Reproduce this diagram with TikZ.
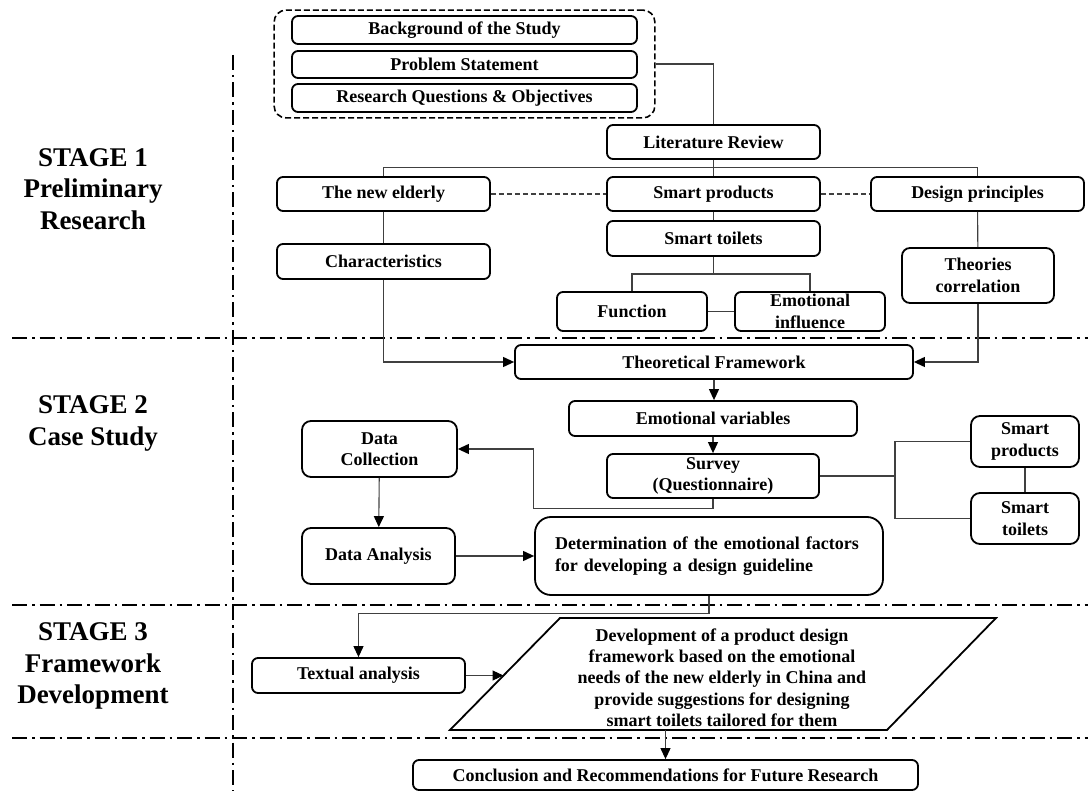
\documentclass[tikz,border=0pt]{standalone}
\usepackage{fontspec}
\setmainfont{Liberation Serif}
\usetikzlibrary{arrows.meta,fit}

\begin{document}
\begin{tikzpicture}[x=1pt, y=-1pt,
    box/.style={draw, line width=1.8pt, rounded corners=6pt, align=center, inner sep=0pt, font=\fontsize{18}{21.5}\selectfont\bfseries},
    link/.style={draw=black!75, line width=1.1pt},
    arrow/.style={link, -{Triangle[length=11pt,width=10pt,color=black]}},
    peer/.style={link, dash pattern=on 5pt off 3pt},
    stagelabel/.style={align=center, font=\fontsize{27}{31.5}\selectfont\bfseries},
    separator/.style={line width=1.8pt, dash pattern=on 15pt off 5pt on 2.5pt off 5pt}
]
    \useasboundingbox (0,0) rectangle (1088,791);

    % Stage separators
    \draw[separator] (12,338) -- (1088,338);
    \draw[separator] (12,605) -- (1088,605);
    \draw[separator] (12,738) -- (1088,738);
    \draw[separator] (233,55) -- (233,791);

    % Stage labels
    \node[stagelabel] (stage1) at (93,189) {STAGE 1\\Preliminary\\Research};
    \node[stagelabel] (stage2) at (93,423.5) {STAGE 2\\Case Study};
    \node[stagelabel] (stage3) at (93,666) {STAGE 3\\Framework\\Development};

    % Stage 1: introduction
    \node[box, minimum width=345pt, minimum height=28pt] (bg) at (464.5,30) {Background of the Study};
    \node[box, minimum width=345pt, minimum height=27pt] (ps) at (464.5,64.5) {Problem Statement};
    \node[box, minimum width=345pt, minimum height=28pt] (rq) at (464.5,98) {Research Questions \& Objectives};
    \node[draw, line width=1.6pt, dash pattern=on 6pt off 3pt, rounded corners=12pt, inner xsep=17pt, inner ysep=5pt, fit=(bg)(ps)(rq)] (intro) {};

    % Stage 1: literature review
    \node[box, minimum width=213pt, minimum height=34pt] (lit) at (713.5,142) {Literature Review};
    \node[box, minimum width=213pt, minimum height=34pt] (elderly) at (383.5,194) {The new elderly};
    \node[box, minimum width=213pt, minimum height=34pt] (sprod) at (713.5,194) {Smart products};
    \node[box, minimum width=213pt, minimum height=34pt] (design) at (977.5,194) {Design principles};
    \node[box, minimum width=213pt, minimum height=35pt] (stoilet) at (713.5,238.5) {Smart toilets};
    \node[box, minimum width=213pt, minimum height=35pt] (charac) at (383.5,261.5) {Characteristics};
    \node[box, minimum width=150pt, minimum height=39pt] (func) at (632,311.5) {Function};
    \node[box, minimum width=150pt, minimum height=39pt] (emo) at (810,311.5) {Emotional\\influence};
    \node[box, minimum width=152pt, minimum height=55pt, rounded corners=8pt] (theory) at (978,275.5) {Theories\\correlation};
    \coordinate (fbus) at (713.5,274);

    \draw[link] (intro.east) -| (lit.north);
    \draw[link] (lit) -- (sprod);
    \draw[link] (elderly.north) -- ++(0,-9) -| (design.north);
    \draw[peer] (elderly) -- (sprod);
    \draw[peer] (sprod) -- (design);
    \draw[link] (sprod) -- (stoilet);
    \draw[link] (elderly) -- (charac);
    \draw[link] (design) -- (theory);
    \draw[link] (stoilet) -- (fbus);
    \draw[link] (func.north) |- (fbus) -| (emo.north);
    \draw[link] (func) -- (emo);

    % Stage 2: case study
    \node[box, minimum width=398pt, minimum height=34pt] (tf) at (714,362) {Theoretical Framework};
    \node[box, minimum width=288pt, minimum height=35pt] (ev) at (713,418.5) {Emotional variables};
    \node[box, minimum width=212pt, minimum height=44pt] (survey) at (713,476) {Survey\\(Questionnaire)};
    \node[box, minimum width=155pt, minimum height=56pt, rounded corners=9pt] (dc) at (379.5,449) {Data\\Collection};
    \node[box, minimum width=153pt, minimum height=56pt, rounded corners=9pt] (da) at (378.5,556) {Data Analysis};
    \node[box, text width=308pt, inner xsep=20pt, minimum height=78pt, align=left, rounded corners=16pt] (det) at (709,556) {Determination of the emotional factors\\for developing a design guideline};
    \node[box, minimum width=108pt, minimum height=51pt, rounded corners=9pt] (rsp) at (1025,441.5) {Smart\\products};
    \node[box, minimum width=108pt, minimum height=51pt, rounded corners=9pt] (rst) at (1025,518.5) {Smart\\toilets};
    \coordinate (sbus) at (895,476);

    \draw[arrow] (charac.south) |- (tf.west);
    \draw[arrow] (theory.south) |- (tf.east);
    \draw[arrow] (tf.south) -- (tf.south |- ev.north);
    \draw[arrow] (ev.south) -- (ev.south |- survey.north);
    \draw[arrow] (survey.south) -- ++(0,10) -| ([xshift=76pt]dc.east) -- (dc.east);
    \draw[arrow] (dc) -- (da);
    \draw[arrow] (da) -- (det);
    \draw[link] (survey.east) -- (sbus);
    \draw[link] (rsp.west) -| (sbus) |- (rst.west);
    \draw[link] (rsp) -- (rst);

    % Stage 3: framework development
    \node[box, minimum width=213pt, minimum height=35pt] (ta) at (358.5,675.5) {Textual analysis};
    \coordinate (devtl) at (560,618);
    \coordinate (devtr) at (996,618);
    \coordinate (devbr) at (887,730);
    \coordinate (devbl) at (450,730);
    \draw[line width=1.8pt, line join=miter] (devtl) -- (devtr) -- (devbr) -- (devbl) -- cycle;
    \node[align=center, inner sep=0pt, font=\fontsize{18}{21.3}\selectfont\bfseries] (dev) at (722,677.5) {Development of a product design\\framework based on the emotional\\needs of the new elderly in China and\\provide suggestions for designing\\smart toilets tailored for them};
    \coordinate (devedge) at (503.5,675.5);
    \coordinate (devfoot) at (665.5,730);

    \node[box, minimum width=505pt, minimum height=30pt] (conc) at (665.5,775) {Conclusion and Recommendations for Future Research};

    \draw[arrow] (det.south) -- ++(0,18) -| (ta.north);
    \draw[arrow] (ta.east) -- (devedge);
    \draw[arrow] (devfoot) -- (conc.north);
\end{tikzpicture}
\end{document}
